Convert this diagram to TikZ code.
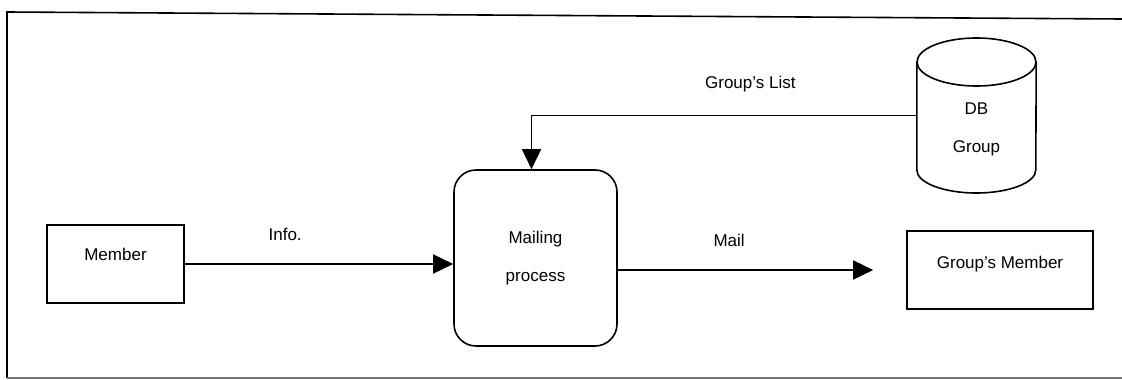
\documentclass[tikz,border=0pt]{standalone}
\usepackage{fontspec}
\setmainfont{Liberation Sans}
\usetikzlibrary{arrows.meta,positioning,shapes.geometric}

\tikzset{
  box/.style={draw, line width=1.6pt, inner sep=0pt, font=\fontsize{17pt}{20pt}\selectfont},
  flow/.style={draw, line width=1.6pt, -{Triangle[length=20pt,width=19pt]}},
  lbl/.style={font=\fontsize{17pt}{20pt}\selectfont, inner sep=0pt},
}

\begin{document}
\begin{tikzpicture}[x=1pt,y=-1pt]
  \useasboundingbox (0,0) rectangle (1122,380);
  % outer frame
  \draw[line width=1.6pt] (1122,19) -- (7,12) -- (7,378);
  \draw[line width=1.2pt, black!55] (7,378) -- (1122,378);

  % entities, process and store
  \node[box, minimum width=137pt, minimum height=78pt, text depth=20pt] (member) at (115.5,264) {Member};
  \node[box, rounded corners=22pt, minimum width=163pt, minimum height=176pt, align=center,
        font=\fontsize{17pt}{38pt}\selectfont] (mailing) at (535.5,258) {Mailing\\process};
  \node[lbl, minimum width=119pt, minimum height=155pt,
        label={[lbl, align=center, font=\fontsize{17pt}{38pt}\selectfont, yshift=-14pt]center:DB\\Group}]
        (groupdb) at (976.5,115.5) {};
  % cylinder outline of the store
  \draw[line width=1.6pt] (976.5,62) ellipse[x radius=59.5pt, y radius=24pt];
  \draw[line width=1.6pt] (groupdb.west |- 0,62) -- (groupdb.west |- 0,170)
    arc[start angle=180, end angle=360, x radius=59.5pt, y radius=23pt] -- (groupdb.east |- 0,62);
  \node[box, minimum width=186pt, minimum height=78pt, text depth=16pt] (groupmember) at (1000,270) {Group's Member};

  % data flows
  \draw[flow] (member.east) -- (member.east -| mailing.west)
    node[lbl, pos=.374, yshift=30pt] {Info.};
  \draw[flow] (mailing.east |- groupmember) -- ([xshift=-33pt]groupmember.west)
    node[lbl, pos=.436, yshift=30pt] {Mail};
  \draw[flow] (groupdb.west) -| ([xshift=-4pt]mailing.north)
    node[lbl, pos=.216, yshift=31pt] {Group's List};
\end{tikzpicture}
\end{document}
